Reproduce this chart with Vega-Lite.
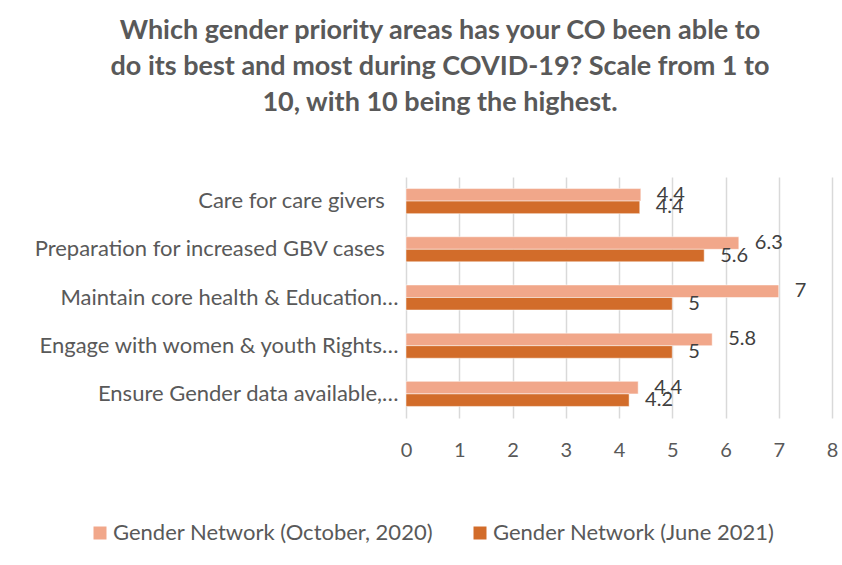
{
  "$schema": "https://vega.github.io/schema/vega-lite/v6.json",
  "width": 426,
  "height": 241,
  "autosize": {"type": "none"},
  "padding": {"left": 406, "top": 177, "right": 10, "bottom": 147},
  "background": "white",
  "config": {"view": {"stroke": null}, "font": "Lato"},
  "title": {
    "text": ["Which gender priority areas has your CO been able to", "do its best and most during COVID-19? Scale from 1 to", "10, with 10 being the highest."],
    "fontSize": 27,
    "fontWeight": "bold",
    "color": "#595959",
    "lineHeight": 36,
    "anchor": "middle",
    "dx": -179,
    "offset": 60
  },
  "data": {
    "values": [
      {"category": "Care for care givers", "series": "Gender Network (October, 2020)", "value": 4.41},
      {"category": "Care for care givers", "series": "Gender Network (June 2021)", "value": 4.39},
      {"category": "Preparation for increased GBV cases", "series": "Gender Network (October, 2020)", "value": 6.25},
      {"category": "Preparation for increased GBV cases", "series": "Gender Network (June 2021)", "value": 5.6},
      {"category": "Maintain core health & Education…", "series": "Gender Network (October, 2020)", "value": 7},
      {"category": "Maintain core health & Education…", "series": "Gender Network (June 2021)", "value": 5},
      {"category": "Engage with women & youth Rights…", "series": "Gender Network (October, 2020)", "value": 5.75},
      {"category": "Engage with women & youth Rights…", "series": "Gender Network (June 2021)", "value": 5},
      {"category": "Ensure Gender data available,…", "series": "Gender Network (October, 2020)", "value": 4.36},
      {"category": "Ensure Gender data available,…", "series": "Gender Network (June 2021)", "value": 4.19}
    ]
  },
  "encoding": {
    "y": {
      "field": "category",
      "type": "nominal",
      "sort": null,
      "scale": {"paddingInner": 0.48, "paddingOuter": 0.24},
      "axis": {
        "title": null, "ticks": false, "domain": false, "labelFontSize": 22, "labelColor": "#595959", "labelPadding": 8, "labelLimit": 420,
        "labelExpr": "indexof(datum.label, '…') < 0 ? datum.label + '\u2002\u2009\u200b' : datum.label"
      }
    },
    "yOffset": {"field": "series", "type": "nominal", "sort": null},
    "x": {
      "field": "value",
      "type": "quantitative",
      "scale": {"domain": [0, 8], "nice": false},
      "axis": {"title": null, "tickCount": 8, "grid": true, "gridColor": "#d9d9d9", "gridWidth": 1.5, "domain": false, "ticks": false, "labelFlush": false, "labelFontSize": 20, "labelColor": "#595959", "labelPadding": 22}
    }
  },
  "layer": [
    {
      "mark": {"type": "bar", "stroke": "white", "strokeWidth": 0.5},
      "encoding": {
        "color": {
          "field": "series",
          "type": "nominal",
          "sort": null,
          "scale": {"domain": ["Gender Network (October, 2020)", "Gender Network (June 2021)"], "range": ["#F1A78A", "#D26C2A"]},
          "legend": {
            "title": null,
            "orient": "none",
            "legendX": -317,
            "legendY": 345,
            "direction": "horizontal",
            "symbolType": "square",
            "symbolSize": 169,
            "symbolStrokeWidth": 0,
            "labelFontSize": 22,
            "labelColor": "#595959",
            "labelOffset": 2,
            "labelLimit": 420,
            "columnPadding": 36
          }
        }
      }
    },
    {
      "mark": {"type": "text", "align": "left", "baseline": "middle", "dx": 16, "fontSize": 20, "color": "#404040"},
      "encoding": {
        "text": {"field": "value", "type": "quantitative", "format": ".2~r"}
      }
    }
  ]
}
